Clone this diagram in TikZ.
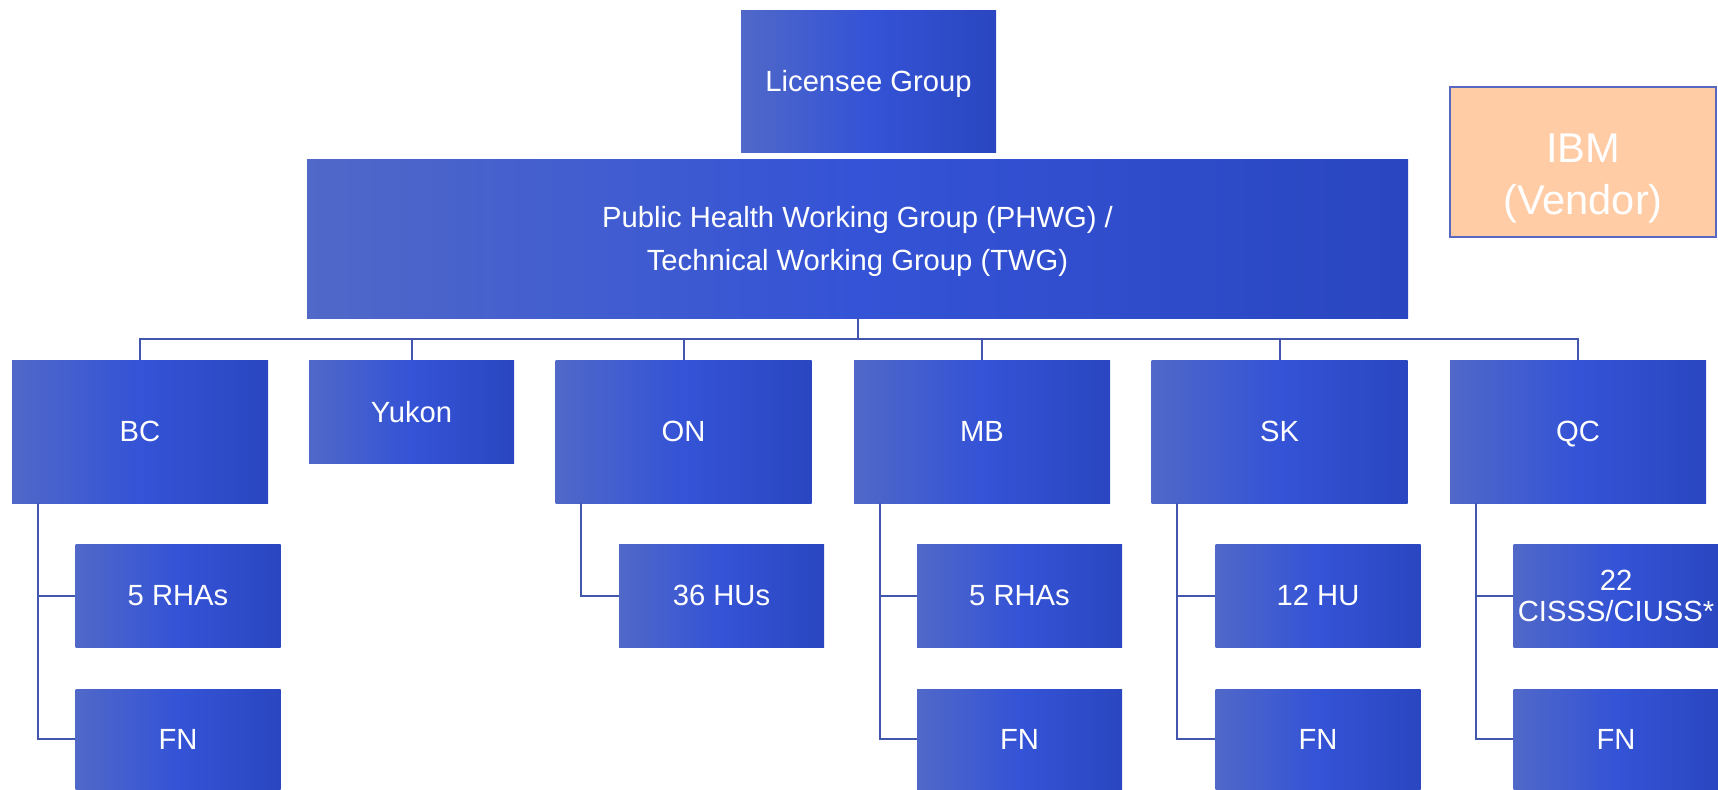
\documentclass[tikz,border=0pt]{standalone}
\usepackage{fontspec}
\setmainfont{Liberation Sans}
\definecolor{boxleft}{HTML}{5068C8}
\definecolor{boxmid}{HTML}{3453D6}
\definecolor{boxright}{HTML}{2A46C0}
\definecolor{linkblue}{HTML}{4256AE}
\definecolor{vendorfill}{HTML}{FFCCA6}
\definecolor{vendorline}{HTML}{5868C0}

\begin{document}
\begin{tikzpicture}[x=0.5pt,y=-0.5pt,
  unit/.style={left color=boxleft,right color=boxright,middle color=boxmid,text=white,inner sep=0pt,text depth=0pt,align=center,font=\fontsize{14.6}{15.4}\selectfont},
  prov/.style={unit,minimum width=128pt,minimum height=71.5pt},
  sub/.style={unit,minimum width=102.5pt,minimum height=51.5pt},
  fn/.style={sub,minimum height=50pt},
  link/.style={draw=linkblue,line width=1pt}]
\useasboundingbox (0,0) rectangle (1718,789);

\node[unit,minimum width=127.5pt,minimum height=71pt] (lic) at (868.5,81) {Licensee Group};
\node[unit,minimum width=550.5pt,minimum height=79.5pt,font=\fontsize{14.6}{21.3}\selectfont] (phwg) at (857.5,238.5) {Public Health Working Group (PHWG) /\\Technical Working Group (TWG)};
\node[draw=vendorline,fill=vendorfill,text=white,line width=0.8pt,inner sep=0pt,minimum width=133pt,minimum height=75pt,font=\fontsize{20.8}{25.7}\selectfont] (ibm) at (1583,162) {\raisebox{-13.2pt}[0pt][0pt]{\begin{tabular}{@{}c@{}}IBM\\(Vendor)\end{tabular}}};

\node[prov] (bc) at (140,431.5) {BC};
\node[sub] (yukon) at (411.5,411.5) {Yukon};
\node[prov] (on) at (683.5,431.5) {ON};
\node[prov] (mb) at (982,431.5) {MB};
\node[prov] (sk) at (1279.5,431.5) {SK};
\node[prov] (qc) at (1578,431.5) {QC};

\node[sub] (bcrha) at (178,595.5) {5 RHAs};
\node[fn] (bcfn) at (178,739) {FN};
\node[sub] (onhu) at (721.5,595.5) {36 HUs};
\node[sub] (mbrha) at (1019.5,595.5) {5 RHAs};
\node[fn] (mbfn) at (1019.5,739) {FN};
\node[sub] (skhu) at (1318,595.5) {12 HU};
\node[fn] (skfn) at (1318,739) {FN};
\node[sub] (qccisss) at (1616,595.5) {22\\CISSS/CIUSS*};
\node[fn] (qcfn) at (1616,739) {FN};

\draw[link] (phwg.south) -- ++(0,21) coordinate (bar);
\foreach \p in {bc,yukon,on,mb,sk,qc}
  \draw[link] (bar) -| (\p.north);
\foreach \p/\c in {bc/bcrha,bc/bcfn,on/onhu,mb/mbrha,mb/mbfn,sk/skhu,sk/skfn,qc/qccisss,qc/qcfn}
  \draw[link] (\p.south west) ++(26,0) |- (\c.west);
\end{tikzpicture}
\end{document}
